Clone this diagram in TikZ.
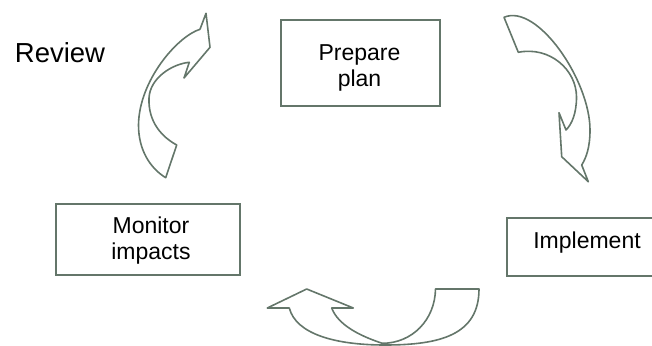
\documentclass[tikz,border=0pt]{standalone}
\usepackage{fontspec}
\setmainfont{Liberation Sans}
\definecolor{cyclegreen}{RGB}{100,118,106}

\begin{document}
\begin{tikzpicture}
        [
            x=1pt, y=-1pt,
            line width=1.6pt,
            stage/.style={rectangle, draw=cyclegreen, inner sep=0pt},
            caption/.style={align=center, font=\fontsize{23}{26}\selectfont},
            turn/.style={draw=cyclegreen, line join=round}
        ]
        \clip (0, 0) rectangle (652, 345);

        \node[stage, minimum width=159pt, minimum height=86pt] (plan) at (360.5, 63) {};
        \node[stage, minimum width=160pt, minimum height=58pt] (implement) at (587, 247) {};
        \node[stage, minimum width=184pt, minimum height=71pt] (monitor) at (148, 239.5) {};

        \node[caption] (plantext) at (359.5, 68.3) {Prepare\\plan};
        \node[caption] (impltext) at (587, 242.3) {Implement};
        \node[caption] (montext) at (151, 240.7) {Monitor\\impacts};
        \node[font=\fontsize{27.5}{30}\selectfont] (review) at (60, 52.5) {Review};

        % plan -> implement
        \draw[turn] (504, 17.3) .. controls (537, 3) and (590, 80) .. (590, 130)
            .. controls (590, 148) and (586, 158) .. (581.7, 165)
            -- (588.3, 181.7) -- (561.7, 156.7) -- (559, 112.7) -- (566, 130)
            .. controls (572, 124) and (576.5, 113) .. (576.5, 97)
            .. controls (576.5, 70) and (550, 46) .. (518.3, 52.3) -- cycle;

        % implement -> monitor
        \draw[turn] (306.7, 289) -- (353.3, 308) -- (331.7, 308)
            .. controls (338, 325) and (360, 336) .. (382.3, 343.3)
            .. controls (412, 343.3) and (435, 320) .. (435.5, 289)
            -- (479, 289)
            .. controls (479, 335) and (440, 345) .. (385, 345)
            .. controls (335, 345) and (296, 334) .. (289.3, 308)
            -- (267.3, 308) -- cycle;

        % monitor -> plan
        \draw[turn] (200, 29.3) -- (206, 13.3) -- (210, 47.3) -- (184, 78) -- (189.3, 62.3)
            .. controls (172, 64) and (150, 78) .. (149, 98)
            .. controls (148, 122) and (162, 137) .. (176.7, 145)
            -- (165.7, 177.7)
            .. controls (150, 168) and (138.5, 150) .. (138.5, 125)
            .. controls (139, 80) and (178, 36) .. (200, 29.3);

    \end{tikzpicture}
\end{document}
